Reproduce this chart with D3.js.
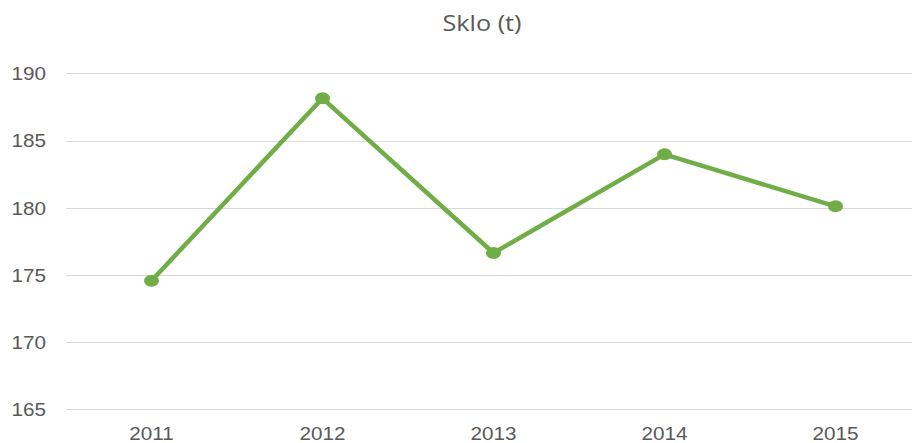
<!DOCTYPE html>
<html lang="cs">
<head>
    <meta charset="UTF-8">
    <title>Sklo (t)</title>
    <script src="https://d3js.org/d3.v7.min.js"></script>
    <style>
        body {
            margin: 0;
            padding: 0;
            background: #fff;
            font-family: 'Open Sans', 'Liberation Sans', sans-serif;
        }
        .axis text {
            font-size: 18px;
            fill: #595959;
            transform-box: fill-box;
        }
        .yaxis text {
            transform-origin: right center;
            transform: scaleX(1.15);
        }
        .xaxis text {
            transform-origin: center;
            transform: scaleX(1.15);
        }
        .title {
            font-size: 21px;
            fill: #595959;
            transform-box: fill-box;
            transform-origin: center;
            transform: scaleX(1.2);
        }
        .grid line {
            stroke: #d9d9d9;
            stroke-width: 1;
            shape-rendering: crispEdges;
        }
    </style>
</head>
<body>
    <div id="chart"></div>
    <script>
        // data
        const years = ["2011", "2012", "2013", "2014", "2015"];
        const values = [174.57, 188.14, 176.63, 183.97, 180.1];
        const yTicks = [165, 170, 175, 180, 185, 190];
        const title = "Sklo (t)";

        const W = 913, H = 443;
        const plotLeft = 66, plotRight = 921, plotTop = 73.3, plotBottom = 409.3;

        const svg = d3.select("#chart").append("svg")
            .attr("width", W)
            .attr("height", H);

        const x = d3.scaleBand()
            .domain(years)
            .range([plotLeft, plotRight]);

        const y = d3.scaleLinear()
            .domain([165, 190])
            .range([plotBottom, plotTop]);

        // horizontal grid lines
        svg.append("g")
            .attr("class", "grid")
            .selectAll("line")
            .data(yTicks)
            .enter()
            .append("line")
            .attr("x1", plotLeft)
            .attr("x2", 912)
            .attr("y1", d => Math.round(y(d)) + 0.5)
            .attr("y2", d => Math.round(y(d)) + 0.5);

        // y axis labels
        const yAxis = svg.append("g")
            .attr("class", "axis yaxis")
            .attr("transform", "translate(46,0)")
            .call(d3.axisLeft(y).tickValues(yTicks).tickSize(0).tickPadding(0));
        yAxis.select(".domain").remove();
        yAxis.selectAll("text").attr("dy", "0.36em");

        // x axis labels
        const xAxis = svg.append("g")
            .attr("class", "axis xaxis")
            .attr("transform", "translate(0," + (plotBottom + 13) + ")")
            .call(d3.axisBottom(x).tickSize(0).tickPadding(0));
        xAxis.select(".domain").remove();
        xAxis.selectAll("text").attr("dy", "1em");

        // title
        svg.append("text")
            .attr("class", "title")
            .attr("x", 482)
            .attr("y", 31)
            .attr("text-anchor", "middle")
            .text(title);

        const cx = (d, i) => x(years[i]) + x.bandwidth() / 2;

        const line = d3.line()
            .x((d, i) => cx(d, i))
            .y(d => y(d));

        svg.append("path")
            .datum(values)
            .attr("fill", "none")
            .attr("stroke", "#70ad47")
            .attr("stroke-width", 4.5)
            .attr("stroke-linejoin", "round")
            .attr("d", line);

        svg.selectAll(".dot")
            .data(values)
            .enter()
            .append("ellipse")
            .attr("class", "dot")
            .attr("cx", (d, i) => cx(d, i))
            .attr("cy", d => y(d))
            .attr("rx", 7.5)
            .attr("ry", 6)
            .attr("fill", "#70ad47");
    </script>
</body>
</html>
